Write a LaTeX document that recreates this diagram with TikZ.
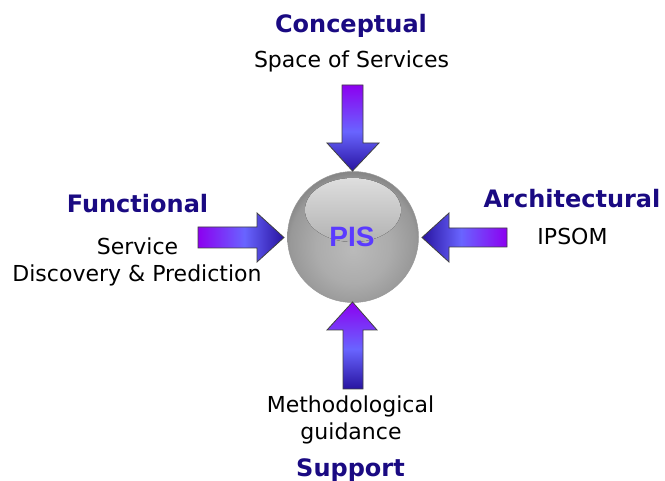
\documentclass[tikz,border=0pt]{standalone}
\usepackage{fontspec}
\setmainfont{DejaVu Sans}
\newfontfamily\pisfont{Liberation Sans}
\definecolor{headc}{RGB}{26,10,130}
\definecolor{pisc}{RGB}{90,58,255}
\definecolor{arA}{RGB}{140,0,240}
\definecolor{arB}{RGB}{105,100,255}
\definecolor{arC}{RGB}{40,20,160}
\definecolor{sA}{RGB}{186,186,186}
\definecolor{sB}{RGB}{172,172,172}
\definecolor{sC}{RGB}{152,152,152}
\definecolor{sD}{RGB}{134,134,134}
\definecolor{hA}{RGB}{222,222,222}
\definecolor{hB}{RGB}{178,178,178}
\pgfdeclarehorizontalshading{arrowshade}{100bp}{color(0bp)=(arA); color(25bp)=(arA); color(52bp)=(arB); color(75bp)=(arC); color(100bp)=(arC)}
\pgfdeclareradialshading{sphereshade}{\pgfpoint{0bp}{-5bp}}{color(0bp)=(sA); color(14bp)=(sB); color(24bp)=(sC); color(27bp)=(sD); color(50bp)=(sD)}
\begin{document}
\begin{tikzpicture}[x=1pt,y=-1pt,
  lbl/.style={font=\fontsize{22}{27}\selectfont, text=black, inner sep=0pt, anchor=base},
  ttl/.style={font=\fontsize{24}{29}\selectfont\bfseries, text=headc, inner sep=0pt, anchor=base},
  arr/.style={draw=black!75, line width=0.8pt, line join=miter, shading=arrowshade}]
\useasboundingbox (0,0) rectangle (665,481);

% sphere
\node[circle, minimum size=131pt, inner sep=0pt, shading=sphereshade, draw=black!40, line width=0.5pt] (sphere) at (353,237) {};
\fill[top color=hA, bottom color=hB] (353,210) ellipse [x radius=48, y radius=32];
\node[font=\pisfont\fontsize{28}{30}\selectfont\bfseries, text=pisc, inner sep=0pt] (pis) at (352,237) {PIS};

% arrows
\draw[arr] (198,227) -- (257,227) -- (257,213) -- (284,237.5) -- (257,262) -- (257,248) -- (198,248) -- cycle;
\draw[arr, shading angle=180] (507,228) -- (449,228) -- (449,213) -- (422,237.5) -- (449,262) -- (449,247) -- (507,247) -- cycle;
\draw[arr, shading angle=-90] (342,85) -- (363,85) -- (363,143) -- (379,143) -- (352.5,171) -- (327,143) -- (342,143) -- cycle;
\draw[arr, shading angle=-90] (343,389) -- (363,389) -- (363,330) -- (377,330) -- (352.5,302) -- (327,330) -- (343,330) -- cycle;

% texts
\node[ttl] (conc) at (351,33) {Conceptual};
\node[lbl] (space) at (351.5,68) {Space of Services};
\node[ttl] (func) at (137.5,213) {Functional};
\node[lbl] (serv) at (137.5,254.5) {Service};
\node[lbl] (disc) at (137,281.5) {Discovery \& Prediction};
\node[ttl] (arch) at (572,208) {Architectural};
\node[lbl] (ipsom) at (572.5,245) {IPSOM};
\node[lbl] (meth) at (350.5,413) {Methodological};
\node[lbl] (guid) at (351,440) {guidance};
\node[ttl] (supp) at (350.5,476) {Support};
\end{tikzpicture}
\end{document}
